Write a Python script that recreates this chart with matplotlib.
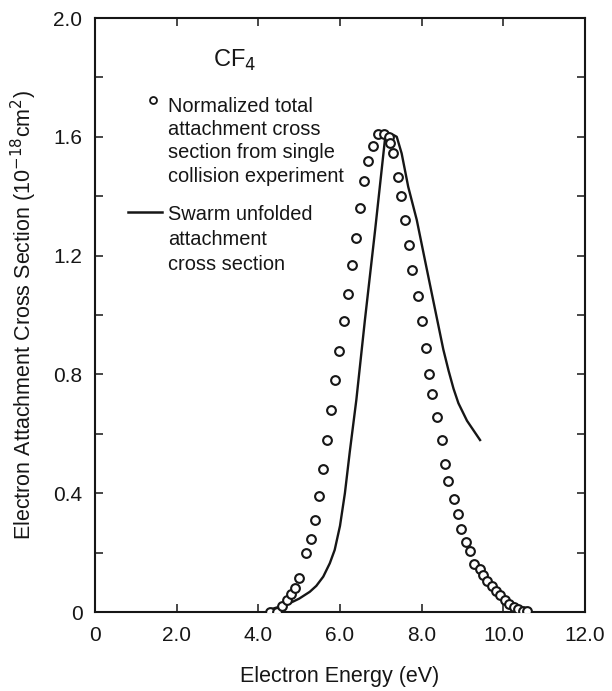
import matplotlib
matplotlib.use("Agg")
import matplotlib.pyplot as plt
from matplotlib.ticker import MultipleLocator

plt.rcParams['font.family'] = ['Liberation Sans', 'DejaVu Sans']

# Single-collision normalized total attachment cross section (circles)
single_E = [4.28, 4.45, 4.59, 4.71, 4.81, 4.90, 5.00, 5.16, 5.28, 5.38, 5.48, 5.58,
            5.69, 5.78, 5.87, 5.97, 6.09, 6.20, 6.29, 6.39, 6.50, 6.60, 6.69, 6.81,
            6.93, 7.07, 7.20, 7.23, 7.30, 7.41, 7.50, 7.60, 7.70, 7.77, 7.91, 8.00,
            8.10, 8.17, 8.25, 8.38, 8.49, 8.56, 8.65, 8.80, 8.89, 8.97, 9.08, 9.18,
            9.29, 9.42, 9.51, 9.61, 9.72, 9.82, 9.92, 10.04, 10.13, 10.25, 10.37,
            10.49, 10.58]
single_sigma = [0.0, 0.0, 0.02, 0.04, 0.06, 0.08, 0.115, 0.198, 0.247, 0.309, 0.39, 0.483,
                0.58, 0.68, 0.78, 0.88, 0.98, 1.07, 1.17, 1.26, 1.36, 1.45, 1.52, 1.57,
                1.61, 1.61, 1.60, 1.578, 1.544, 1.464, 1.40, 1.32, 1.235, 1.15, 1.065, 0.98,
                0.89, 0.80, 0.735, 0.655, 0.58, 0.50, 0.44, 0.38, 0.33, 0.28, 0.235, 0.205,
                0.163, 0.145, 0.123, 0.104, 0.086, 0.071, 0.056, 0.042, 0.027, 0.016, 0.009,
                0.004, 0.003]

# Swarm unfolded attachment cross section (line)
swarm_E = [4.28, 4.52, 4.85, 5.00, 5.26, 5.42, 5.59, 5.75, 5.87, 6.00, 6.12,
           6.24, 6.40, 6.61, 6.86, 7.10, 7.21, 7.31, 7.39, 7.51, 7.67, 7.88, 8.08,
           8.28, 8.53, 8.66, 8.78, 8.90, 9.11, 9.43]
swarm_sigma = [0.008, 0.018, 0.035, 0.045, 0.068, 0.088, 0.119, 0.164, 0.209, 0.29, 0.40,
               0.54, 0.714, 0.983, 1.286, 1.59, 1.61, 1.606, 1.600, 1.544, 1.432, 1.32, 1.185,
               1.051, 0.884, 0.812, 0.752, 0.703, 0.644, 0.579]

x_ticks = [0, 2, 4, 6, 8, 10, 12]
x_ticklabels = ['0', '2.0', '4.0', '6.0', '8.0', '10.0', '12.0']
y_ticks = [0, 0.4, 0.8, 1.2, 1.6, 2.0]
y_ticklabels = ['0', '0.4', '0.8', '1.2', '1.6', '2.0']

legend1_lines = ['Normalized total', 'attachment cross', 'section from single',
                 'collision experiment']
legend2_lines = ['Swarm unfolded', 'attachment', 'cross section']

INK = '#161616'
W, H = 612, 691
fig = plt.figure(figsize=(W / 100, H / 100), dpi=100)
ax = fig.add_axes([95 / W, 1 - 612 / H, (585 - 95) / W, (612 - 18) / H])

ax.plot(swarm_E, swarm_sigma, color=INK, lw=1.7, zorder=2)
ax.plot(single_E, single_sigma, linestyle='none', marker='o', ms=6.3,
        mfc='white', mec=INK, mew=1.5, zorder=3)

ax.set_xlim(0, 12)
ax.set_ylim(0, 2.0)
ax.set_xticks(x_ticks)
ax.set_xticklabels(x_ticklabels)
ax.set_yticks(y_ticks)
ax.set_yticklabels(y_ticklabels)
ax.yaxis.set_minor_locator(MultipleLocator(0.2))
ax.tick_params(which='both', direction='in', top=True, right=True,
               length=6, width=1.1, labelsize=15, colors=INK)
ax.tick_params(axis='x', pad=10)
ax.tick_params(axis='y', pad=9)
for s in ax.spines.values():
    s.set_linewidth(1.5)
    s.set_color(INK)

ax.set_xlabel('Electron Energy (eV)', fontsize=15.5, labelpad=15, color=INK)
ax.set_ylabel('Electron Attachment Cross Section (10$^{-18}$cm$^2$)', fontsize=15.5,
              labelpad=10, color=INK)

# annotation placement in figure pixels (top-left origin)
def fpx(px, py):
    return (px / W, 1 - py / H)

fig.text(*fpx(213, 60), 'CF$_4$', fontsize=17, ha='left', va='center', color=INK)
fig.lines.append(plt.Line2D([153 / W], [1 - 100 / H], linestyle='none', marker='o', ms=5,
                            mfc='white', mec=INK, mew=1.3, transform=fig.transFigure))
for i, t in enumerate(legend1_lines):
    fig.text(*fpx(168, 104 + 23.5 * i), t, fontsize=14.4, ha='left', va='center_baseline',
             color=INK)
fig.lines.append(plt.Line2D([128 / W, 162 / W], [1 - 212 / H, 1 - 212 / H], color=INK, lw=1.8,
                            transform=fig.transFigure))
for i, t in enumerate(legend2_lines):
    fig.text(*fpx(168, 213 + 24.5 * i), t, fontsize=14.4, ha='left', va='center_baseline',
             color=INK)

fig.savefig('out.png', dpi=100)
